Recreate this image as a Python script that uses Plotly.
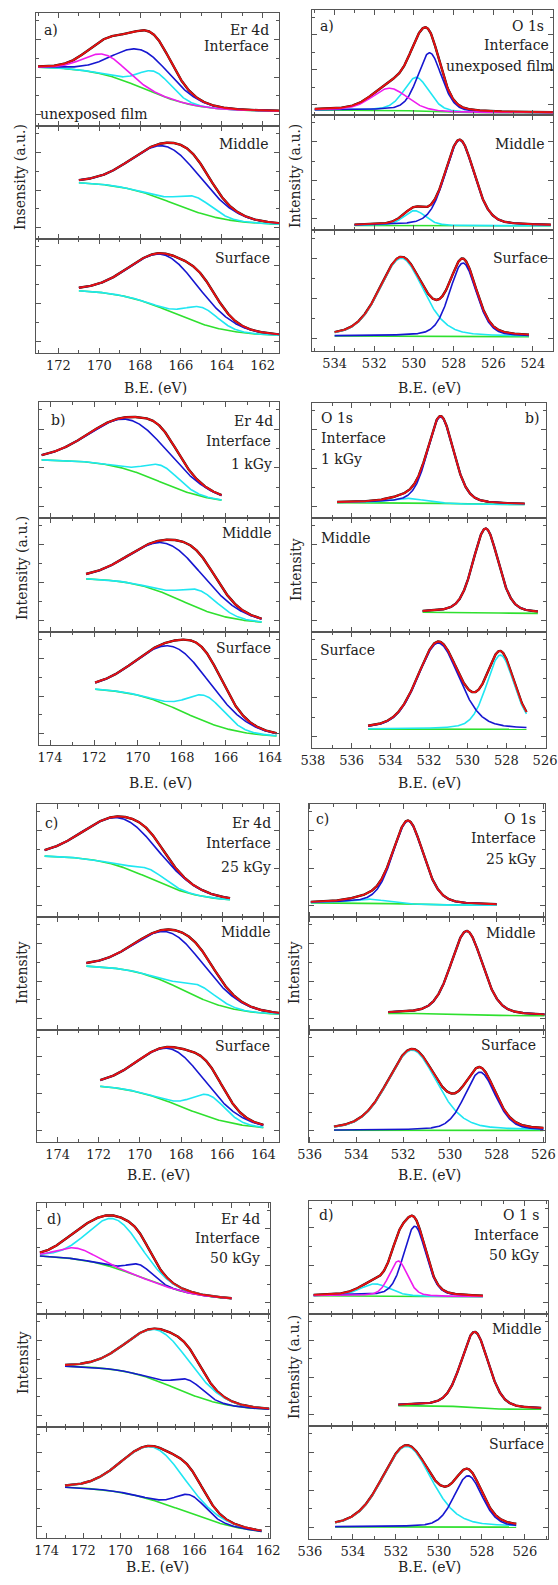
import numpy as np
import plotly.graph_objects as go

# ===================== DATA =====================
# For every panel: three spectra (Interface / Middle / Surface).
# extent : [BE at start, BE at end] of the measured spectrum (eV)
# bg     : Shirley-type background [high-BE level, low-BE level, step centre (eV), step width (eV)]
#          levels in % of the sub-plot height
# peaks  : fitted component -> [centre (eV), height above background (%), FWHM (eV)]

er_a_extent = [[173.0, 161.2], [171.0, 161.2], [171.0, 161.2]]
er_a_bg = [[52.7, 13.0, 167.8, 1.3], [51.0, 12.3, 166.4, 1.35], [56.0, 14.6, 166.4, 1.37]]
er_a_peaks = [
    {"magenta": [169.75, 17.8, 2.4], "blue": [167.85, 33.4, 3.3], "cyan": [167.27, 19.2, 1.9]},
    {"blue": [166.6, 48.0, 4.0], "cyan": [165.3, 13.2, 2.0]},
    {"blue": [166.7, 47.7, 4.0], "cyan": [164.97, 14.6, 1.9]},
]
o_a_extent = [[535.0, 523.0], [533.0, 523.1], [534.0, 524.2]]
o_a_bg = [[4.8, 2.2, 529.5, 0.8], [3.9, 3.7, 529.0, 1.0], [12.4, 11.8, 529.0, 1.0]]
o_a_peaks = [
    {"magenta": [531.23, 21.0, 2.1], "cyan": [529.88, 32.0, 1.5], "blue": [529.21, 56.0, 1.43]},
    {"cyan": [529.97, 13.0, 1.3], "blue": [527.70, 74.5, 1.75]},
    {"cyan": [530.64, 64.4, 2.6], "blue": [527.53, 60.8, 1.6]},
]
er_b_extent = [[174.38, 166.2], [172.36, 164.38], [171.95, 163.7]]
er_b_bg = [[50.5, 12.0, 169.0, 1.2], [47.5, 7.0, 168.0, 1.15], [51.0, 6.5, 167.9, 1.25]]
er_b_peaks = [
    {"blue": [170.3, 43.4, 4.3], "cyan": [168.91, 14.5, 1.8]},
    {"blue": [168.55, 44.5, 4.0], "cyan": [167.18, 16.0, 2.0]},
    {"blue": [168.27, 54.0, 4.0], "cyan": [166.92, 23.0, 2.0]},
]
o_b_extent = [[536.75, 527.05], [532.33, 526.37], [535.15, 526.96]]
o_b_bg = [[13.4, 11.7, 531.0, 0.8], [17.3, 16.3, 529.0, 0.8], [16.3, 16.1, 531.0, 1.0]]
o_b_peaks = [
    {"cyan": [533.12, 3.8, 2.0], "blue": [531.40, 75.2, 1.6]},
    {"blue": [529.07, 74.0, 1.55]},
    {"blue": [531.52, 74.3, 2.53], "cyan": [528.31, 64.0, 1.7]},
]
er_c_extent = [[174.63, 165.62], [172.6, 163.2], [171.93, 164.0]]
er_c_bg = [[54.5, 13.5, 169.5, 1.25], [57.5, 13.0, 167.9, 1.25], [52.0, 10.5, 167.96, 1.4]]
er_c_peaks = [
    {"blue": [170.8, 43.0, 4.3], "cyan": [169.5, 8.0, 1.8]},
    {"blue": [168.4, 45.5, 4.0], "cyan": [167.1, 11.0, 2.0]},
    {"blue": [168.38, 48.0, 3.9], "cyan": [166.67, 19.7, 1.9]},
]
o_c_extent = [[535.95, 528.0], [532.64, 525.95], [534.96, 526.0]]
o_c_bg = [[12.5, 10.4, 532.0, 0.8], [14.7, 12.6, 529.3, 0.8], [10.5, 10.3, 530.0, 1.0]]
o_c_peaks = [
    {"cyan": [533.47, 3.6, 1.8], "blue": [531.79, 73.6, 1.55]},
    {"blue": [529.28, 74.0, 1.6]},
    {"cyan": [531.62, 71.6, 2.5], "blue": [528.71, 52.0, 1.56]},
]
er_d_extent = [[174.36, 163.98], [173.0, 161.94], [173.0, 162.36]]
er_d_bg = [[53.5, 12.0, 168.86, 1.6], [54.5, 14.5, 167.05, 1.45], [47.0, 2.0, 166.6, 1.8]]
er_d_peaks = [
    {"magenta": [172.4, 10.0, 2.4], "cyan": [170.3, 44.0, 3.4], "blue": [168.95, 11.0, 1.6]},
    {"cyan": [167.9, 45.0, 4.0], "blue": [166.3, 12.2, 1.8]},
    {"cyan": [168.2, 47.8, 4.0], "blue": [166.2, 16.6, 1.9]},
]
o_d_extent = [[535.83, 527.95], [531.89, 525.24], [534.83, 526.4]]
o_d_bg = [[16.2, 15.3, 531.5, 0.8], [18.2, 15.0, 528.7, 0.5], [10.7, 10.5, 530.0, 1.0]]
o_d_peaks = [
    {"cyan": [532.97, 10.6, 1.6], "magenta": [531.89, 31.0, 1.0], "blue": [531.12, 62.0, 1.23]},
    {"blue": [528.33, 68.0, 1.5]},
    {"cyan": [531.5, 71.4, 2.7], "blue": [528.64, 45.4, 1.55]},
]

# x tick labels
er_ticks = [162, 164, 166, 168, 170, 172, 174]
o_ticks = [524, 526, 528, 530, 532, 534, 536, 538]

# texts
x_title = "B.E. (eV)"
y_titles = ["Insensity (a.u.)", "Intensity (a.u.)", "Intensity (a.u.)", "Intensity",
            "Intensity", "Intensity", "Intensity", "Intensity (a.u.)"]

# ===================== STYLE / LAYOUT =====================
W, H = 558, 1585
FONT = "DejaVu Serif"
COL = {"black": "#111111", "green": "#2fe02f", "cyan": "#1fe6f2", "blue": "#1616d0",
       "magenta": "#ee1cee", "red": "#e81010"}
AXC = "#555555"

PANELS = [
    dict(ext=er_a_extent, bg=er_a_bg, pk=er_a_peaks, eta=0.1, ticks=er_ticks,
         xpx=(36, 279), ypx=(13, 126, 239, 353), xr=(173.1, 161.2),
         xt=(155, 388), yt=(20, 177)),
    dict(ext=o_a_extent, bg=o_a_bg, pk=o_a_peaks, eta=0.3, ticks=o_ticks,
         xpx=(312, 553), ypx=(10, 115, 230, 351), xr=(535.14, 522.99),
         xt=(430, 388), yt=(295, 176)),
    dict(ext=er_b_extent, bg=er_b_bg, pk=er_b_peaks, eta=0.1, ticks=er_ticks,
         xpx=(39, 279), ypx=(402, 518, 632, 745), xr=(174.5, 163.59),
         xt=(160, 783), yt=(22, 568)),
    dict(ext=o_b_extent, bg=o_b_bg, pk=o_b_peaks, eta=0.3, ticks=o_ticks,
         xpx=(312, 546), ypx=(403, 518, 632, 748), xr=(538.05, 525.95),
         xt=(430, 783), yt=(296, 570)),
    dict(ext=er_c_extent, bg=er_c_bg, pk=er_c_peaks, eta=0.1, ticks=er_ticks,
         xpx=(37, 279), ypx=(804, 917, 1030, 1142), xr=(175.0, 163.24),
         xt=(158, 1175), yt=(22, 973)),
    dict(ext=o_c_extent, bg=o_c_bg, pk=o_c_peaks, eta=0.3, ticks=o_ticks,
         xpx=(308.5, 545), ypx=(804, 917, 1030, 1142), xr=(536.05, 525.93),
         xt=(430, 1175), yt=(294, 973)),
    dict(ext=er_d_extent, bg=er_d_bg, pk=er_d_peaks, eta=0.1, ticks=er_ticks,
         xpx=(37.3, 269.5), ypx=(1203, 1314, 1427, 1538), xr=(174.5, 161.93),
         xt=(157, 1567), yt=(23, 1363)),
    dict(ext=o_d_extent, bg=o_d_bg, pk=o_d_peaks, eta=0.3, ticks=o_ticks,
         xpx=(309.3, 548), ypx=(1201, 1314, 1426, 1539), xr=(536.03, 524.92),
         xt=(430, 1567), yt=(294, 1367)),
]

# in-plot labels: (text, x px, y px, anchor)
LABELS = [
    ("a)", 42, 30, "left"), ("Er 4d", 271, 30, "right"), ("Interface", 271, 46, "right"),
    ("unexposed film", 38, 114, "left"), ("Middle", 271, 144, "right"), ("Surface", 272, 258, "right"),
    ("a)", 318, 26, "left"), ("O 1s", 546, 26, "right"), ("Interface", 551, 45, "right"),
    ("unexposed film", 556, 66, "right"), ("Middle", 547, 144, "right"), ("Surface", 550, 258, "right"),
    ("b)", 49, 420, "left"), ("Er 4d", 275, 421, "right"), ("Interface", 273, 441, "right"),
    ("1 kGy", 274, 464, "right"), ("Middle", 274, 533, "right"), ("Surface", 273, 648, "right"),
    ("O 1s", 318.7, 418, "left"), ("Interface", 318.7, 438, "left"), ("1 kGy", 318.7, 459, "left"),
    ("b)", 541, 418, "right"), ("Middle", 318.7, 538, "left"), ("Surface", 318, 650, "left"),
    ("c)", 43, 823, "left"), ("Er 4d", 273, 823, "right"), ("Interface", 273, 843, "right"),
    ("25 kGy", 273, 867, "right"), ("Middle", 273, 932, "right"), ("Surface", 272, 1046, "right"),
    ("c)", 314, 819, "left"), ("O 1s", 538, 819, "right"), ("Interface", 538, 838, "right"),
    ("25 kGy", 538, 859, "right"), ("Middle", 538, 933, "right"), ("Surface", 538, 1045, "right"),
    ("d)", 45, 1219, "left"), ("Er 4d", 262, 1219, "right"), ("Interface", 262, 1238, "right"),
    ("50 kGy", 262, 1258, "right"),
    ("d)", 317, 1215, "left"), ("O 1 s", 541, 1215, "right"), ("Interface", 541, 1235, "right"),
    ("50 kGy", 541, 1255, "right"), ("Middle", 544, 1329, "right"), ("Surface", 546, 1444, "right"),
]


def pvoigt(x, c, h, w, eta):
    d = (x - c) / w
    return h * ((1 - eta) * np.exp(-4 * np.log(2) * d * d) + eta / (1 + 4 * d * d))


fig = go.Figure()
layout = {}
k = 0
for P in PANELS:
    for i in range(3):
        k += 1
        xa = "xaxis" if k == 1 else f"xaxis{k}"
        ya = "yaxis" if k == 1 else f"yaxis{k}"
        xr_ = "x" if k == 1 else f"x{k}"
        yr_ = "y" if k == 1 else f"y{k}"
        x0, x1 = P["xpx"]
        top, bot = P["ypx"][i], P["ypx"][i + 1]
        common = dict(showline=True, linecolor=AXC, linewidth=1, mirror="allticks",
                      ticks="inside", ticklen=5, tickwidth=1, tickcolor=AXC,
                      showgrid=False, zeroline=False, automargin=False)
        layout[xa] = dict(common, domain=[x0 / W, x1 / W], range=list(P["xr"]), anchor=yr_,
                          tickmode="array", tickvals=P["ticks"], ticktext=[str(t) for t in P["ticks"]],
                          showticklabels=(i == 2),
                          tickfont=dict(family=FONT, size=13, color="#222"),
                          minor=dict(dtick=1, tick0=0, ticks="inside", ticklen=3,
                                     tickcolor=AXC, showgrid=False))
        layout[ya] = dict(common, domain=[1 - bot / H, 1 - top / H], range=[0, 100], anchor=xr_,
                          tickmode="linear", tick0=10, dtick=33.33, showticklabels=False,
                          minor=dict(dtick=16.665, tick0=10, ticks="inside", ticklen=3,
                                     tickcolor=AXC, showgrid=False))

        e0, e1 = P["ext"][i]
        x = np.linspace(e0, e1, 500)
        hi, lo, c, s = P["bg"][i]
        bg = lo + (hi - lo) / (1 + np.exp(-(x - c) / s))
        comps = {n: pvoigt(x, *p, P["eta"]) for n, p in P["pk"][i].items()}
        total = bg + sum(comps.values())

        def add(y, color, width):
            fig.add_trace(go.Scatter(x=x, y=y, mode="lines", xaxis=xr_, yaxis=yr_,
                                     line=dict(color=color, width=width), showlegend=False,
                                     hoverinfo="skip"))

        add(total, COL["black"], 2.4)
        add(bg, COL["green"], 1.6)
        for name in ["cyan", "blue", "magenta"]:
            if name in comps:
                add(bg + comps[name], COL[name], 1.6)
        add(total, COL["red"], 1.9)

annotations = []


def ann(text, x, y, xa="center", size=14, angle=0):
    return dict(text=text, x=x / W, y=1 - y / H, xref="paper", yref="paper", xanchor=xa,
                yanchor="middle", showarrow=False, textangle=angle,
                font=dict(family=FONT, size=size, color="#222"))


for t, x, y, a in LABELS:
    annotations.append(ann(t, x, y, a, 14))
for P, yt in zip(PANELS, y_titles):
    annotations.append(ann(x_title, P["xt"][0], P["xt"][1], "center", 14))
    annotations.append(ann(yt, P["yt"][0], P["yt"][1], "center", 14, -90))

fig.update_layout(**layout)
fig.update_layout(width=W, height=H,
                  margin=dict(l=0, r=0, t=0, b=0, pad=0, autoexpand=False),
                  paper_bgcolor="white", plot_bgcolor="white",
                  annotations=annotations, showlegend=False)
fig.write_html("out.html", config={"displayModeBar": False},
               post_script="document.body.style.margin='0px';"
                           "document.body.style.padding='0px';"
                           "document.body.style.overflow='hidden';"
                           "document.documentElement.style.overflow='hidden';")
